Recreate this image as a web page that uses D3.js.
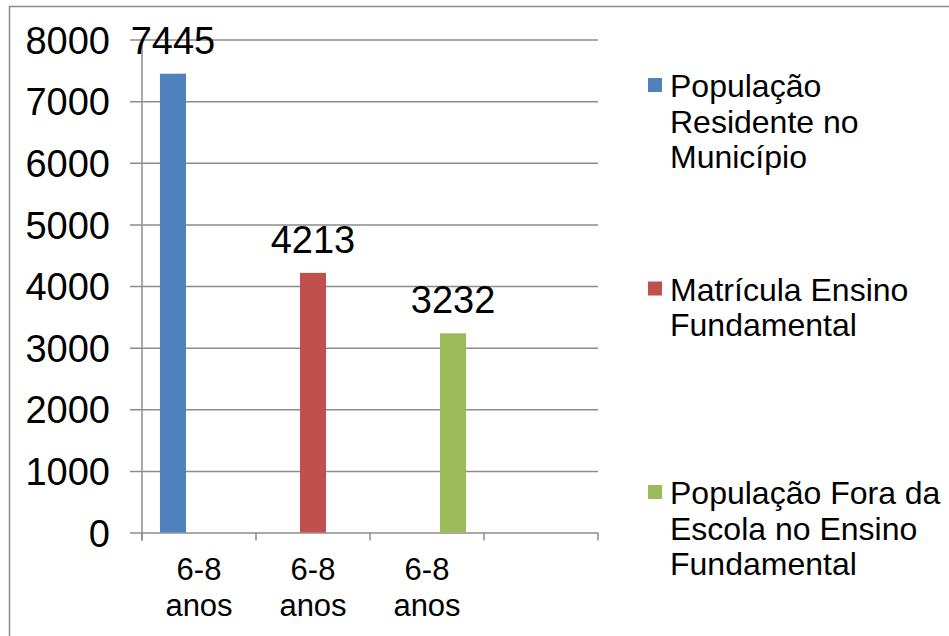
<!DOCTYPE html>
<html>
<head>
<meta charset="utf-8">
<script src="https://cdn.jsdelivr.net/npm/d3@7/dist/d3.min.js"></script>
<style>
  html, body { margin: 0; padding: 0; background: #fff; }
  svg { display: block; }
  text { font-family: "Liberation Sans", Arial, Helvetica, sans-serif; fill: #000; }
</style>
</head>
<body>
<svg id="chart" width="949" height="636"></svg>
<script>
// Categories along the x axis (the last slot is left empty)
const categories = ["6-8 anos", "6-8 anos", "6-8 anos", ""];
// Series names (legend) and their colours
const seriesNames = [
  "População Residente no Município",
  "Matrícula Ensino Fundamental",
  "População Fora da Escola no Ensino Fundamental"
];
const seriesColors = ["#4F81BD", "#C0504D", "#9BBB59"];
// Values per series, one per category
const residentes = [7445, null, null, null];
const matricula = [null, 4213, null, null];
const foraEscola = [null, null, 3232, null];
const yTicks = [0, 1000, 2000, 3000, 4000, 5000, 6000, 7000, 8000];

// Legend lines (wrapped labels)
const legendLines = [
  ["População", "Residente no", "Município"],
  ["Matrícula Ensino", "Fundamental"],
  ["População Fora da", "Escola no Ensino", "Fundamental"]
];

const seriesValues = [residentes, matricula, foraEscola];

const svg = d3.select("#chart");

// Outer frame
svg.append("rect")
  .attr("x", 9.5).attr("y", 6.5)
  .attr("width", 960).attr("height", 660)
  .attr("fill", "none")
  .attr("stroke", "#8a8a8a")
  .attr("stroke-width", 1.5);

const plot = { left: 142, right: 598, top: 39.5, bottom: 532.5 };

const x0 = d3.scaleBand()
  .domain(d3.range(categories.length))
  .range([plot.left, plot.right])
  .paddingInner(0).paddingOuter(0);

const x1 = d3.scaleBand()
  .domain(d3.range(seriesNames.length))
  .range([0, x0.bandwidth()])
  .paddingInner(0)
  .paddingOuter(0.69);

const y = d3.scaleLinear()
  .domain([0, 8000])
  .range([plot.bottom, plot.top]);

const gridColor = "#8c8c8c";

// Gridlines and y axis labels
const yAxis = d3.axisLeft(y)
  .tickValues(yTicks)
  .tickSize(-(plot.right - plot.left) - 12)
  .tickPadding(20)
  .tickFormat(d3.format("d"));

const gy = svg.append("g")
  .attr("transform", `translate(${plot.left - 12},0)`)
  .call(yAxis);
gy.select(".domain").remove();
gy.selectAll(".tick line")
  .attr("stroke", gridColor)
  .attr("stroke-width", 1.5);
gy.selectAll(".tick text")
  .attr("font-size", 38)
  .attr("x", -20)
  .attr("dy", "0.36em")
  .style("font-family", "'Liberation Sans', Arial, sans-serif")
  .attr("fill", "#000");

// Vertical axis line
svg.append("line")
  .attr("x1", plot.left).attr("x2", plot.left)
  .attr("y1", plot.top).attr("y2", plot.bottom + 8)
  .attr("stroke", gridColor).attr("stroke-width", 1.5);

// Category tick marks on the x axis
const tickXs = d3.range(categories.length + 1).map(i =>
  i < categories.length ? x0(i) : x0(categories.length - 1) + x0.bandwidth());
svg.selectAll("line.xtick")
  .data(tickXs)
  .join("line")
  .attr("class", "xtick")
  .attr("x1", d => d).attr("x2", d => d)
  .attr("y1", plot.bottom).attr("y2", plot.bottom + 8)
  .attr("stroke", gridColor).attr("stroke-width", 1.5);

// Category labels (two lines)
const catG = svg.selectAll("text.cat")
  .data(categories)
  .join("text")
  .attr("class", "cat")
  .attr("text-anchor", "middle")
  .attr("font-size", 31)
  .attr("transform", (d, i) => `translate(${x0(i) + x0.bandwidth() / 2},0)`);
catG.each(function (d) {
  const parts = d ? d.split(" ") : [];
  d3.select(this).selectAll("tspan")
    .data(parts)
    .join("tspan")
    .attr("x", 0)
    .attr("y", (p, j) => 580 + j * 36)
    .text(p => p);
});

// Bars
const barData = [];
seriesValues.forEach((vals, s) => {
  vals.forEach((v, c) => {
    if (v != null) barData.push({ s, c, v });
  });
});

svg.selectAll("rect.bar")
  .data(barData)
  .join("rect")
  .attr("class", "bar")
  .attr("x", d => x0(d.c) + x1(d.s))
  .attr("width", x1.bandwidth())
  .attr("y", d => y(d.v))
  .attr("height", d => y(0) - y(d.v))
  .attr("fill", d => seriesColors[d.s]);

// Value labels above bars
svg.selectAll("text.val")
  .data(barData)
  .join("text")
  .attr("class", "val")
  .attr("text-anchor", "middle")
  .attr("font-size", 38)
  .attr("x", d => x0(d.c) + x1(d.s) + x1.bandwidth() / 2)
  .attr("y", d => y(d.v) - 20)
  .text(d => d.v);

// Legend
const legend = svg.selectAll("g.legend")
  .data(seriesNames)
  .join("g")
  .attr("class", "legend")
  .attr("transform", (d, i) => `translate(648,${97 + i * 203.5})`);

legend.append("rect")
  .attr("x", 0).attr("y", -19)
  .attr("width", 14).attr("height", 14)
  .attr("fill", (d, i) => seriesColors[i]);

legend.append("text")
  .attr("font-size", 32)
  .each(function (d, i) {
    d3.select(this).selectAll("tspan")
      .data(legendLines[i])
      .join("tspan")
      .attr("x", 22)
      .attr("y", (p, j) => j * 35.7)
      .text(p => p);
  });
</script>
</body>
</html>
